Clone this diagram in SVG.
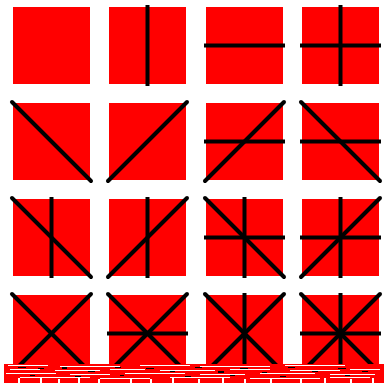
<svg xmlns="http://www.w3.org/2000/svg" width="385" height="389" viewBox="0 0 385 389">
<style>
.sq{fill:#ff0000}
.ln{stroke:#000;stroke-width:4;stroke-linecap:butt;fill:none}
.dg{stroke:#000;stroke-width:4;stroke-linecap:round;fill:none}
.w{fill:#fff}
.k{fill:#000}
</style>
<defs>
<path id="v" class="ln" d="M38.5,-2 V79"/>
<path id="h" class="ln" d="M-2,38.5 H79"/>
<path id="d1" class="dg" d="M-1,-1 L78,78"/>
<path id="d2" class="dg" d="M-1,78 L78,-1"/>
</defs>
<rect width="385" height="389" fill="#fff"/>
<g id="n1" transform="translate(13,7)"><rect class="sq" width="77" height="77"/></g>
<g id="n2" transform="translate(109,7)"><rect class="sq" width="77" height="77"/><use href="#v"/></g>
<g id="n3" transform="translate(206,7)"><rect class="sq" width="77" height="77"/><use href="#h"/></g>
<g id="n4" transform="translate(302,7)"><rect class="sq" width="77" height="77"/><use href="#v"/><use href="#h"/></g>
<g id="n5" transform="translate(13,103)"><rect class="sq" width="77" height="77"/><use href="#d1"/></g>
<g id="n6" transform="translate(109,103)"><rect class="sq" width="77" height="77"/><use href="#d2"/></g>
<g id="n7" transform="translate(206,103)"><rect class="sq" width="77" height="77"/><use href="#h"/><use href="#d2"/></g>
<g id="n8" transform="translate(302,103)"><rect class="sq" width="77" height="77"/><use href="#h"/><use href="#d1"/></g>
<g id="n9" transform="translate(13,199)"><rect class="sq" width="77" height="77"/><use href="#v"/><use href="#d1"/></g>
<g id="n10" transform="translate(109,199)"><rect class="sq" width="77" height="77"/><use href="#v"/><use href="#d2"/></g>
<g id="n11" transform="translate(206,199)"><rect class="sq" width="77" height="77"/><use href="#v"/><use href="#h"/><use href="#d1"/></g>
<g id="n12" transform="translate(302,199)"><rect class="sq" width="77" height="77"/><use href="#v"/><use href="#h"/><use href="#d2"/></g>
<g id="n13" transform="translate(13,295)"><rect class="sq" width="77" height="77"/><use href="#d1"/><use href="#d2"/></g>
<g id="n14" transform="translate(109,295)"><rect class="sq" width="77" height="77"/><use href="#h"/><use href="#d1"/><use href="#d2"/></g>
<g id="n15" transform="translate(206,295)"><rect class="sq" width="77" height="77"/><use href="#v"/><use href="#d1"/><use href="#d2"/></g>
<g id="n16" transform="translate(302,295)"><rect class="sq" width="77" height="77"/><use href="#v"/><use href="#h"/><use href="#d1"/><use href="#d2"/></g>
<g id="noise">
<rect class="sq" x="4" y="364" width="380" height="19"/>
<rect class="w" x="8" y="365" width="40" height="1"/>
<rect class="w" x="60" y="366" width="60" height="1"/>
<rect class="w" x="140" y="365" width="50" height="1"/>
<rect class="w" x="200" y="366" width="70" height="1"/>
<rect class="w" x="285" y="365" width="60" height="1"/>
<rect class="w" x="10" y="369" width="30" height="1"/>
<rect class="w" x="55" y="370" width="45" height="1"/>
<rect class="w" x="110" y="369" width="35" height="1"/>
<rect class="w" x="160" y="370" width="55" height="1"/>
<rect class="w" x="230" y="369" width="40" height="1"/>
<rect class="w" x="290" y="370" width="50" height="1"/>
<rect class="w" x="350" y="369" width="30" height="1"/>
<rect class="w" x="6" y="373" width="50" height="1"/>
<rect class="w" x="70" y="374" width="40" height="1"/>
<rect class="w" x="125" y="373" width="60" height="1"/>
<rect class="w" x="200" y="374" width="45" height="1"/>
<rect class="w" x="260" y="373" width="55" height="1"/>
<rect class="w" x="330" y="374" width="45" height="1"/>
<rect class="w" x="20" y="377" width="70" height="1"/>
<rect class="w" x="100" y="378" width="50" height="1"/>
<rect class="w" x="170" y="377" width="60" height="1"/>
<rect class="w" x="250" y="378" width="70" height="1"/>
<rect class="w" x="330" y="377" width="40" height="1"/>
<rect class="w" x="18" y="378" width="2" height="5"/>
<rect class="w" x="40" y="378" width="2" height="5"/>
<rect class="w" x="58" y="379" width="2" height="4"/>
<rect class="w" x="78" y="378" width="2" height="5"/>
<rect class="w" x="98" y="379" width="2" height="4"/>
<rect class="w" x="130" y="378" width="2" height="5"/>
<rect class="w" x="150" y="379" width="2" height="4"/>
<rect class="w" x="172" y="378" width="2" height="5"/>
<rect class="w" x="198" y="379" width="2" height="4"/>
<rect class="w" x="222" y="378" width="2" height="5"/>
<rect class="w" x="244" y="379" width="2" height="4"/>
<rect class="w" x="270" y="378" width="2" height="5"/>
<rect class="w" x="300" y="379" width="2" height="4"/>
<rect class="w" x="324" y="378" width="2" height="5"/>
<rect class="w" x="350" y="379" width="2" height="4"/>
<rect class="w" x="372" y="378" width="2" height="5"/>
<rect class="k" x="18" y="367" width="8" height="1"/>
<rect class="k" x="38" y="368" width="6" height="1"/>
<rect class="k" x="62" y="367" width="5" height="2"/>
<rect class="k" x="88" y="371" width="7" height="1"/>
<rect class="k" x="115" y="367" width="6" height="1"/>
<rect class="k" x="146" y="368" width="8" height="1"/>
<rect class="k" x="170" y="371" width="5" height="1"/>
<rect class="k" x="195" y="367" width="7" height="1"/>
<rect class="k" x="218" y="371" width="6" height="2"/>
<rect class="k" x="240" y="368" width="8" height="1"/>
<rect class="k" x="262" y="372" width="5" height="1"/>
<rect class="k" x="288" y="367" width="7" height="1"/>
<rect class="k" x="312" y="371" width="6" height="1"/>
<rect class="k" x="338" y="368" width="8" height="1"/>
<rect class="k" x="362" y="371" width="6" height="1"/>
<rect class="k" x="30" y="375" width="5" height="1"/>
<rect class="k" x="75" y="376" width="6" height="1"/>
<rect class="k" x="120" y="375" width="4" height="1"/>
<rect class="k" x="185" y="376" width="6" height="1"/>
<rect class="k" x="230" y="375" width="5" height="1"/>
<rect class="k" x="280" y="376" width="6" height="1"/>
<rect class="k" x="345" y="375" width="5" height="1"/>
</g>
</svg>
